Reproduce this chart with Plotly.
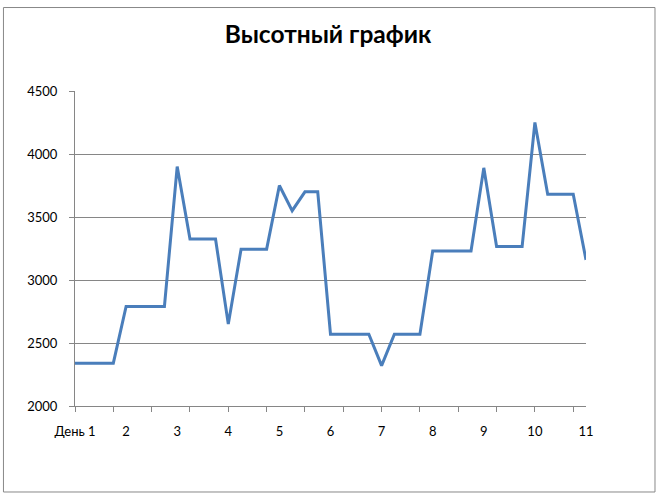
import plotly.graph_objects as go

# 41 readings, four per day (day 1 .. day 11)
positions = list(range(41))
altitude = [2340, 2340, 2340, 2340,
            2790, 2790, 2790, 2790,
            3900, 3325, 3325, 3325,
            2650, 3245, 3245, 3245,
            3750, 3550, 3700, 3700,
            2570, 2570, 2570, 2570,
            2320, 2570, 2570, 2570,
            3230, 3230, 3230, 3230,
            3890, 3265, 3265, 3265,
            4250, 3680, 3680, 3680,
            3160]
day_label_positions = [0, 4, 8, 12, 16, 20, 24, 28, 32, 36, 40]
day_labels = ["День 1", "2", "3", "4", "5", "6", "7", "8", "9", "10", "11"]
tick_mark_positions = list(range(0, 40, 3))
y_ticks = [2000, 2500, 3000, 3500, 4000, 4500]

GRID = "#868686"
FONT = "Lato, 'Open Sans', sans-serif"

fig = go.Figure()
fig.add_trace(go.Scatter(x=positions, y=altitude, mode="lines",
                         line=dict(color="#4a7ebb", width=3),
                         showlegend=False, hoverinfo="skip"))
# invisible trace on label axis
fig.add_trace(go.Scatter(x=[positions[0]], y=[altitude[0]], xaxis="x2", mode="lines",
                         showlegend=False, opacity=0, hoverinfo="skip"))

fig.update_layout(
    width=660, height=499,
    margin=dict(l=75, r=74, t=91, b=93),
    paper_bgcolor="white", plot_bgcolor="white",
    title=dict(text="<b>Высотный график</b>", x=0.497, xanchor="center",
               y=0.932, yanchor="middle",
               font=dict(family=FONT, size=24.5, color="black")),
    font=dict(family=FONT, size=13, color="black"),
    xaxis=dict(range=[0, 40], tickmode="array", tickvals=tick_mark_positions,
               showticklabels=False, ticks="outside", ticklen=5, tickcolor=GRID,
               showline=True, linecolor=GRID, linewidth=1, showgrid=False,
               zeroline=False),
    xaxis2=dict(range=[0, 40], overlaying="x", anchor="y", side="bottom",
                tickmode="array", tickvals=day_label_positions, ticktext=day_labels,
                ticks="outside", ticklen=13, tickcolor="rgba(0,0,0,0)",
                showline=False, showgrid=False, zeroline=False,
                tickfont=dict(family=FONT, size=13, color="black")),
    yaxis=dict(range=[2000, 4500], tickmode="array", tickvals=y_ticks,
               ticks="outside", ticklen=5, tickcolor=GRID,
               showline=True, linecolor=GRID, linewidth=1,
               showgrid=True, gridcolor=GRID, gridwidth=1, zeroline=False,
               ticklabelstandoff=9,
               tickfont=dict(family=FONT, size=13, color="black")),
    shapes=[dict(type="rect", xref="paper", yref="paper",
                 x0=-0.140, x1=1.135, y0=-0.273, y1=1.265,
                 line=dict(color="#888888", width=1), layer="below")],
)

fig.write_html("out.html", config={"displayModeBar": False},
               post_script="document.body.style.margin='0';document.body.style.overflow='hidden';")
